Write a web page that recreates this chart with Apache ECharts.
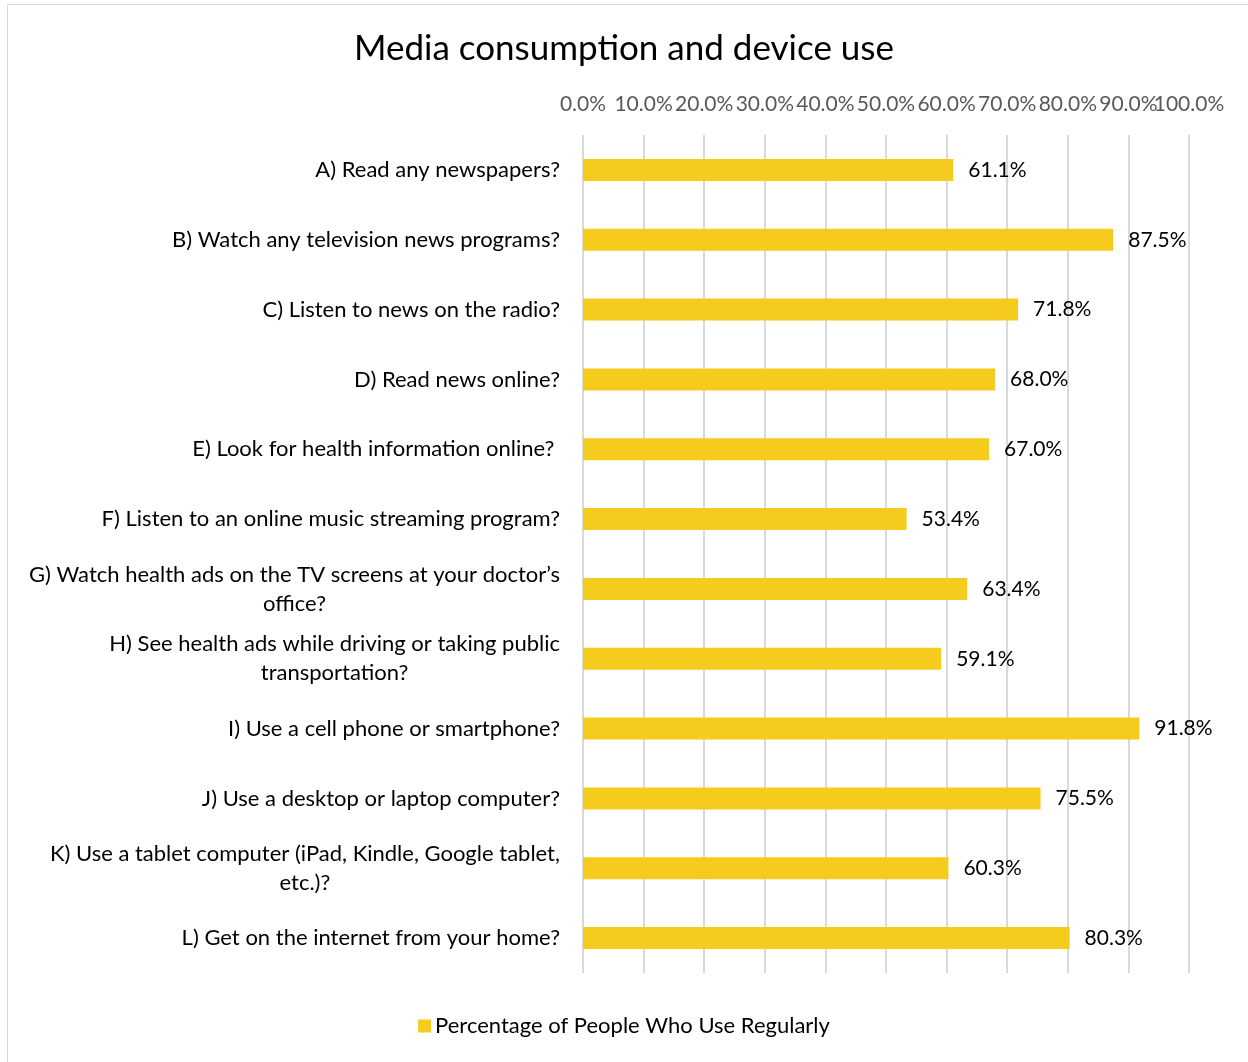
<!DOCTYPE html>
<html>
<head>
<meta charset="utf-8">
<script src="https://cdn.jsdelivr.net/npm/echarts@6/dist/echarts.min.js"></script>
<style>
  html, body { margin: 0; padding: 0; background: #fff; }
  #chart { width: 1248px; height: 1062px; }
</style>
</head>
<body>
<div id="chart"></div>
<script>
// Survey questions, top to bottom
const categories = [
  'A) Read any newspapers?',
  'B) Watch any television news programs?',
  'C) Listen to news on the radio?',
  'D) Read news online?',
  'E) Look for health information online? ',
  'F) Listen to an online music streaming program?',
  'G) Watch health ads on the TV screens at your doctor\u2019s\noffice?',
  'H) See health ads while driving or taking public\ntransportation?',
  'I) Use a cell phone or smartphone?',
  'J) Use a desktop or laptop computer?',
  'K) Use a tablet computer (iPad, Kindle, Google tablet,\netc.)?',
  'L) Get on the internet from your home?'
];
// Share of respondents answering yes (%)
const usePercent = [61.1, 87.5, 71.8, 68.0, 67.0, 53.4, 63.4, 59.1, 91.8, 75.5, 60.3, 80.3];
const seriesName = 'Percentage of People Who Use Regularly';
const chartTitle = 'Media consumption and device use';
const axisMin = 0, axisMax = 100, axisStep = 10;

const FONT = 'Lato, "Open Sans", sans-serif';
const pct = v => v.toFixed(1) + '%';
const chart = echarts.init(document.getElementById('chart'));

const tickLabelStyle = {
  margin: 20,
  hideOverlap: false,
  showMinLabel: true,
  showMaxLabel: true,
  fontFamily: FONT,
  fontSize: 21,
  color: '#595959'
};

chart.setOption({
  animation: false,
  backgroundColor: '#fff',
  title: {
    text: chartTitle,
    left: 'center',
    top: 26,
    textStyle: { fontFamily: FONT, fontSize: 35, fontWeight: 'normal', color: '#000' }
  },
  legend: {
    bottom: 20,
    left: 'center',
    itemWidth: 13,
    itemHeight: 13,
    itemGap: 6,
    icon: 'rect',
    data: [seriesName],
    textStyle: { fontFamily: FONT, fontSize: 22, color: '#000', padding: [0, 0, 0, -1] }
  },
  graphic: [{
    type: 'rect',
    silent: true,
    shape: { x: 7.5, y: 4.5, width: 1300, height: 1100 },
    style: { fill: 'none', stroke: '#d9d9d9', lineWidth: 1 }
  }],
  grid: { left: 583, right: 59, top: 135, bottom: 89 },
  xAxis: [{
    // main value axis: gridlines and every tick label but the last
    type: 'value',
    position: 'top',
    min: axisMin,
    max: axisMax,
    interval: axisStep,
    axisLine: { show: false },
    axisTick: { show: false },
    splitLine: { lineStyle: { color: '#d9d9d9', width: 2 } },
    axisLabel: Object.assign({}, tickLabelStyle, {
      formatter: v => (v === axisMax ? '' : pct(v))
    })
  }, {
    // same scale, carries only the end label so the crowded pair both stay visible
    type: 'value',
    position: 'top',
    min: axisMin,
    max: axisMax,
    interval: axisStep,
    axisLine: { show: false },
    axisTick: { show: false },
    splitLine: { show: false },
    axisLabel: Object.assign({}, tickLabelStyle, {
      formatter: v => (v === axisMax ? pct(v) : '')
    })
  }],
  yAxis: {
    type: 'category',
    inverse: true,
    data: categories,
    axisLine: { show: false },
    axisTick: { show: false },
    axisLabel: {
      margin: 23,
      fontFamily: FONT,
      fontSize: 22,
      color: '#000',
      lineHeight: 29,
      formatter: v => v.split('\n').map(s => '{c|' + s + '}').join('\n'),
      rich: {
        c: { align: 'center', fontFamily: FONT, fontSize: 22, color: '#000', lineHeight: 29 }
      }
    }
  },
  series: [{
    name: seriesName,
    type: 'bar',
    xAxisIndex: 0,
    data: usePercent,
    barWidth: 22,
    itemStyle: { color: '#F5CB1E' },
    label: {
      show: true,
      position: 'right',
      distance: 15,
      fontFamily: FONT,
      fontSize: 21,
      color: '#000',
      formatter: p => pct(p.value)
    }
  }]
});
</script>
</body>
</html>
